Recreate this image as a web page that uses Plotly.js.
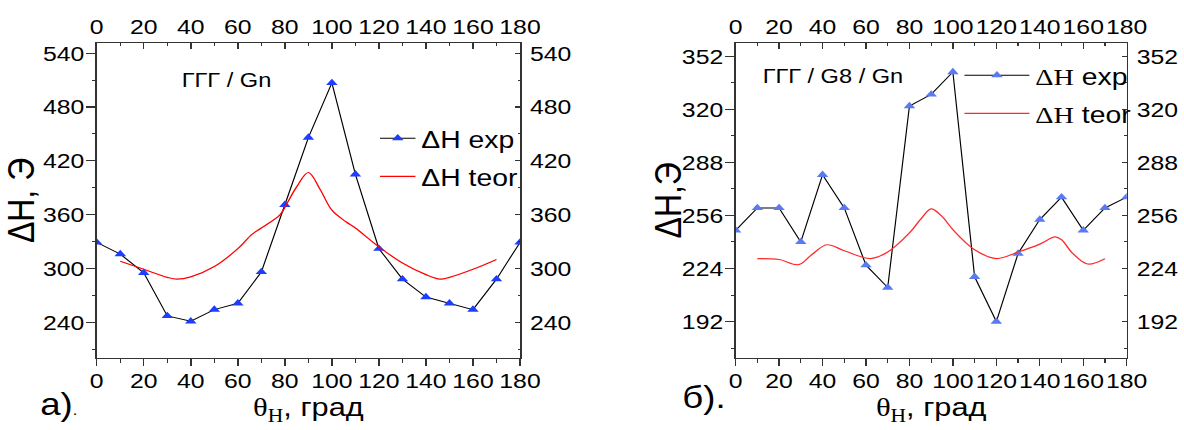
<!DOCTYPE html>
<html>
<head>
<meta charset="utf-8">
<script src="https://cdn.plot.ly/plotly-3.0.1.min.js"></script>
<style>
  html, body { margin: 0; padding: 0; background: #fff; }
  #wrap { width: 1184px; height: 430px; overflow: hidden; }
  #plot { width: 1003px; height: 430px; transform: scaleX(1.18046); transform-origin: 0 0; }
</style>
</head>
<body>
<div id="wrap"><div id="plot"></div></div>
<script>
// Angle of the applied field, degrees
const thetaExp = [0, 10, 20, 30, 40, 50, 60, 70, 80, 90, 100, 110, 120, 130, 140, 150, 160, 170, 180];

// (а) ГГГ / Gn : measured line width, Oe
const dHexpA = [329, 316, 295, 247, 241, 254, 261, 296, 371, 446, 507, 405, 322, 288, 268, 261, 254, 288, 329];
// (а) calculated line width
const thetaTeorA = [10, 20, 30, 34, 40, 50, 60, 66, 70, 78, 81, 85, 90, 95, 100, 106, 110, 120, 130, 140, 146, 150, 160, 170];
const dHteorA   = [308, 299, 290, 288, 290.5, 302, 322, 338, 345, 360, 373, 391, 407, 388, 365, 352, 345, 324, 306, 293, 288, 290, 299, 310];

// (б) ГГГ / G8 / Gn : measured line width, Oe
const dHexpB = [247, 260.5, 260.5, 240, 280.5, 260.5, 226, 212.5, 322, 329, 342.5, 219, 192, 233, 253.5, 267, 247, 260.5, 267];
// (б) calculated line width
const thetaTeorB = [10, 20, 29, 35, 42, 50, 62, 70, 80, 85, 90, 95, 100, 110, 120, 130, 140, 147, 150, 155, 162, 170];
const dHteorB   = [230, 229.4, 226.3, 232.3, 238.3, 234.7, 230, 233.9, 245.4, 253.4, 260, 255.4, 247.4, 235.3, 230, 233.9, 238.7, 243, 241.3, 233.3, 226.7, 229.9];

// Axis ranges and tick steps
const xRange = [0, 180];
const yRangeA = [200, 551.5];
const yRangeB = [170, 360];
const yStepA = 60, yMinorA = 30;
const yStepB = 32, yMinorB = 16;

const SANS = '"Liberation Sans", Arial, sans-serif';
const AXIS = '#333333';
const TICKFONT = { family: SANS, size: 21, color: '#000' };
const serif = s => '<span style="font-family:\'Liberation Serif\'">' + s + '</span>';

function bottomX(domain, anchor) {
  return {
    domain: domain, anchor: anchor, range: xRange, side: 'bottom',
    showline: true, linecolor: AXIS, linewidth: 1.3, mirror: false,
    showgrid: false, zeroline: false, tickangle: 0,
    ticks: 'outside', ticklen: 7, tickwidth: 1.2, tickcolor: AXIS, dtick: 20, tick0: 0,
    minor: { dtick: 10, ticks: 'outside', ticklen: 4, tickwidth: 1, tickcolor: AXIS },
    tickfont: TICKFONT, ticklabelstandoff: -3,
    title: { text: serif('θ<sub>H</sub>') + ', град',
             font: { family: SANS, size: 26, color: '#000' }, standoff: 5 }
  };
}
function topX(over, anchor) {
  return {
    overlaying: over, anchor: anchor, range: xRange, side: 'top',
    showline: true, linecolor: AXIS, linewidth: 1.3,
    showgrid: false, zeroline: false, tickangle: 0,
    ticks: 'inside', ticklen: 6, tickwidth: 1.2, tickcolor: AXIS, dtick: 20, tick0: 0,
    minor: { dtick: 10, ticks: 'inside', ticklen: 3, tickwidth: 1, tickcolor: AXIS },
    ticklabelstandoff: -1,
    tickfont: TICKFONT
  };
}
function leftY(domain, anchor, range, step, minor, title) {
  const ax = {
    domain: domain, anchor: anchor, range: range, side: 'left',
    showline: true, linecolor: AXIS, linewidth: 1.3,
    showgrid: false, zeroline: false,
    ticks: 'outside', ticklen: 8, tickwidth: 1.2, tickcolor: AXIS, dtick: step, tick0: 0,
    minor: { dtick: minor, ticks: 'outside', ticklen: 3, tickwidth: 1, tickcolor: AXIS },
    tickfont: TICKFONT, ticklabelstandoff: -3
  };
  if (title) ax.title = { text: title, font: { family: SANS, size: 32, color: '#000' }, standoff: 4 };
  return ax;
}
function rightY(over, anchor, range, step, minor) {
  return {
    overlaying: over, anchor: anchor, range: range, side: 'right',
    showline: true, linecolor: AXIS, linewidth: 1.3,
    showgrid: false, zeroline: false,
    ticks: 'inside', ticklen: 4, tickwidth: 1.2, tickcolor: AXIS, dtick: step, tick0: 0,
    minor: { dtick: minor, ticks: 'inside', ticklen: 2, tickwidth: 1, tickcolor: AXIS },
    ticklabelstandoff: 3,
    tickfont: TICKFONT
  };
}

// empty carrier traces so the top and right scales get drawn
function carrier(xa, ya, yr) {
  return { x: xRange, y: yr, xaxis: xa, yaxis: ya, type: 'scatter', mode: 'none',
           showlegend: false, hoverinfo: 'skip' };
}

const traces = [
  {
    x: thetaExp, y: dHexpA, xaxis: 'x', yaxis: 'y', type: 'scatter', mode: 'lines+markers',
    name: 'ΔH exp', legend: 'legend', legendgroup: 'a1',
    line: { color: '#000000', width: 1 },
    marker: { symbol: 'triangle-up', size: 8.5, color: '#1f3dff' }
  },
  {
    x: thetaTeorA, y: dHteorA, xaxis: 'x', yaxis: 'y', type: 'scatter', mode: 'lines',
    name: 'ΔH teor', legend: 'legend', legendgroup: 'a2',
    line: { color: '#ff0000', width: 1.2, shape: 'spline', smoothing: 1 }
  },
  {
    x: thetaExp, y: dHexpB, xaxis: 'x3', yaxis: 'y3', type: 'scatter', mode: 'lines+markers',
    name: serif('ΔH') + ' exp', legend: 'legend2', legendgroup: 'b1',
    line: { color: '#000000', width: 1 },
    marker: { symbol: 'triangle-up', size: 8.5, color: '#5a7af4' }
  },
  {
    x: thetaTeorB, y: dHteorB, xaxis: 'x3', yaxis: 'y3', type: 'scatter', mode: 'lines',
    name: serif('ΔH') + ' teor', legend: 'legend2', legendgroup: 'b2',
    line: { color: '#ff2b2b', width: 1.2, shape: 'spline', smoothing: 1 }
  },
  carrier('x2', 'y', yRangeA),
  carrier('x', 'y2', yRangeA),
  carrier('x4', 'y3', yRangeB),
  carrier('x3', 'y4', yRangeB)
];

const legendBase = {
  xanchor: 'left', yanchor: 'top', bgcolor: 'rgba(0,0,0,0)', borderwidth: 0,
  traceorder: 'grouped', tracegroupgap: 4,
  font: { family: SANS, size: 24, color: '#000' }
};

const layout = {
  width: 1003, height: 430,
  margin: { l: 0, r: 0, t: 43.3, b: 71.7, pad: 0 },
  paper_bgcolor: '#ffffff', plot_bgcolor: '#ffffff',
  showlegend: true,
  font: { family: SANS, color: '#000' },
  xaxis: bottomX([0.0817, 0.4392], 'y'),
  xaxis2: topX('x', 'y'),
  yaxis: leftY([0, 1], 'x', yRangeA, yStepA, yMinorA, 'ΔH, Э'),
  yaxis2: rightY('y', 'x', yRangeA, yStepA, yMinorA),
  xaxis3: bottomX([0.6213, 0.9516], 'y3'),
  xaxis4: topX('x3', 'y3'),
  yaxis3: leftY([0, 1], 'x3', yRangeB, yStepB, yMinorB, null),
  yaxis4: rightY('y3', 'x3', yRangeB, yStepB, yMinorB),
  legend: Object.assign({}, legendBase, { x: 0.316, y: 0.768 }),
  legend2: Object.assign({}, legendBase, { x: 0.8096, y: 0.968, itemwidth: 55 }),
  annotations: [
    // y-axis title of panel б
    { text: 'ΔH,Э', xref: 'paper', yref: 'paper', x: 0.5633, y: 0.5, textangle: -90,
      xanchor: 'center', yanchor: 'middle', showarrow: false,
      font: { family: SANS, size: 32, color: '#000' } },
    { text: 'ГГГ / Gn', xref: 'paper', yref: 'paper', x: 0.152, y: 0.8835,
      xanchor: 'left', yanchor: 'middle', showarrow: false,
      font: { family: SANS, size: 20, color: '#000' } },
    { text: 'ГГГ / G8 / Gn', xref: 'paper', yref: 'paper', x: 0.6425, y: 0.896,
      xanchor: 'left', yanchor: 'middle', showarrow: false,
      font: { family: SANS, size: 20, color: '#000' } },
    { text: 'а)<span style="font-size:14px">.</span>', xref: 'paper', yref: 'paper', x: 0.0321, y: -0.148,
      xanchor: 'left', yanchor: 'middle', showarrow: false,
      font: { family: SANS, size: 31, color: '#000' } },
    { text: 'б).', xref: 'paper', yref: 'paper', x: 0.5745, y: -0.125,
      xanchor: 'left', yanchor: 'middle', showarrow: false,
      font: { family: SANS, size: 31, color: '#000' } }
  ]
};

Plotly.newPlot('plot', traces, layout, { staticPlot: true, displayModeBar: false });
</script>
</body>
</html>
